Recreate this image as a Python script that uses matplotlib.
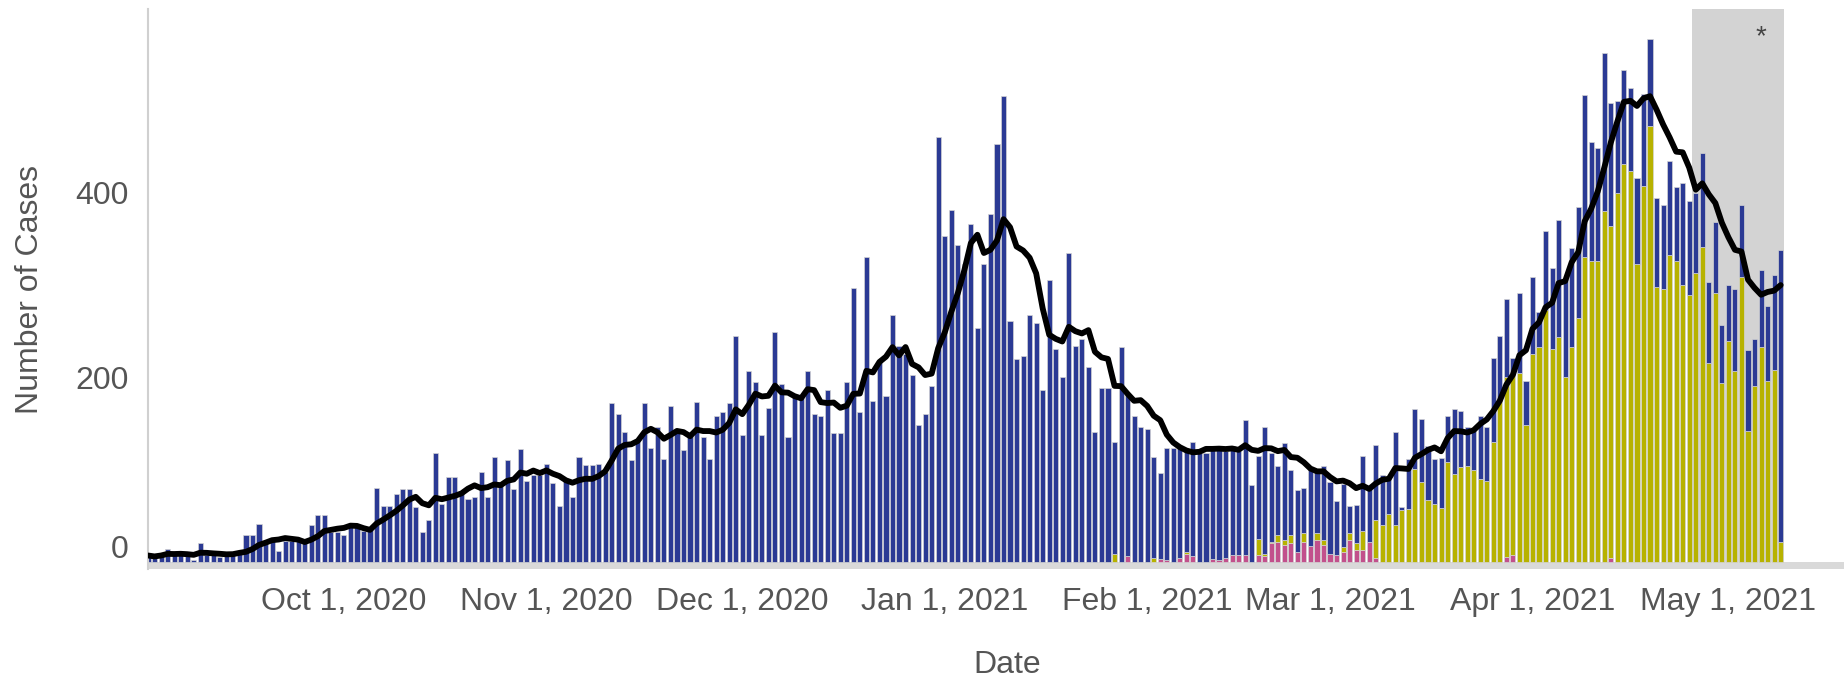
import matplotlib
matplotlib.use("Agg")
import matplotlib.pyplot as plt
from matplotlib.transforms import ScaledTranslation, blended_transform_factory
import numpy as np
import pandas as pd

# Daily case counts from 2020-09-01 to 2021-05-09 (one value per day).
START_DATE = "2020-09-01"

total_cases = [
    7, 5, 9, 14, 8, 10, 6, 2, 21, 8,
    10, 5, 6, 7, 12, 29, 29, 41, 22, 25,
    12, 23, 23, 23, 23, 40, 51, 51, 32, 32,
    29, 40, 38, 34, 38, 80, 61, 61, 74, 79,
    79, 59, 32, 45, 118, 63, 92, 92, 77, 68,
    70, 97, 70, 113, 86, 110, 79, 122, 88, 94,
    94, 106, 85, 61, 90, 70, 113, 105, 105, 106,
    97, 172, 160, 141, 110, 130, 172, 123, 146, 111,
    169, 141, 121, 141, 173, 135, 111, 158, 162, 172,
    244, 137, 206, 195, 137, 167, 249, 193, 135, 179,
    179, 206, 160, 158, 186, 139, 139, 195, 296, 162,
    330, 174, 218, 179, 267, 234, 225, 202, 148, 160,
    190, 460, 352, 381, 343, 322, 366, 253, 322, 376,
    452, 504, 261, 220, 223, 267, 258, 186, 305, 230,
    200, 334, 234, 241, 211, 141, 188, 188, 130, 232,
    183, 158, 146, 144, 114, 96, 123, 123, 123, 121,
    130, 118, 118, 123, 125, 120, 125, 120, 153, 83,
    115, 146, 118, 104, 129, 99, 78, 80, 99, 97,
    104, 86, 66, 84, 60, 62, 115, 80, 127, 94,
    92, 141, 59, 111, 165, 155, 125, 111, 112, 158,
    165, 163, 146, 143, 158, 146, 221, 244, 284, 221,
    291, 196, 308, 270, 358, 318, 370, 306, 339, 384,
    505, 454, 448, 550, 496, 498, 532, 513, 415, 506,
    566, 394, 386, 434, 405, 410, 390, 399, 442, 303,
    368, 256, 300, 295, 386, 229, 241, 316, 277, 310,
    337,
]

# Variant counts (olive and pink segments); none before 2021-01-27.
b117_cases = [0] * 148 + [
    9, 0, 0, 0, 0, 0, 4, 0, 0, 0,
    0, 2, 0, 0, 0, 0, 0, 0, 0, 0,
    0, 0, 17, 3, 2, 7, 6, 9, 0, 9,
    0, 7, 6, 0, 0, 5, 7, 7, 20, 0,
    41, 40, 52, 40, 56, 57, 101, 86, 67, 63,
    58, 108, 95, 103, 104, 100, 90, 88, 130, 175,
    195, 196, 204, 148, 225, 233, 272, 230, 243, 200,
    233, 264, 330, 326, 326, 380, 359, 399, 430, 423,
    322, 407, 471, 297, 295, 332, 326, 299, 289, 312,
    341, 215, 291, 194, 239, 207, 308, 142, 190, 233,
    196, 208, 22,
]

b1429_cases = [0] * 148 + [
    0, 0, 6, 0, 0, 0, 0, 3, 2, 0,
    4, 9, 6, 0, 0, 3, 2, 4, 8, 8,
    8, 0, 8, 6, 20, 22, 18, 20, 11, 22,
    17, 24, 18, 9, 8, 11, 24, 13, 13, 22,
    4, 0, 0, 0, 0, 0, 0, 0, 0, 0,
    0, 0, 0, 0, 0, 0, 0, 0, 0, 0,
    5, 8, 0, 0, 0, 0, 0, 0, 0, 0,
    0, 0, 0, 0, 0, 0, 4, 0, 0, 0,
    0, 0, 0, 0, 0, 0, 0, 0, 0, 0,
    0, 0, 0, 0, 0, 0, 0, 0, 0, 0,
    0, 0, 0,
]

tick_dates = ["2020-10-01", "2020-11-01", "2020-12-01", "2021-01-01",
              "2021-02-01", "2021-03-01", "2021-04-01", "2021-05-01"]
tick_labels = ["Oct 1, 2020", "Nov 1, 2020", "Dec 1, 2020", "Jan 1, 2021",
               "Feb 1, 2021", "Mar 1, 2021", "Apr 1, 2021", "May 1, 2021"]
y_ticks = [0, 200, 400]

# Incomplete-data window (shaded).
SHADE_START, SHADE_END = "2021-04-26", "2021-05-09"

BLUE = "#2b3a94"
OLIVE = "#b7b200"
PINK = "#c2508c"
EDGE = "#d4d4d4"
TEXT = "#555555"


def main():
    plt.rcParams["font.family"] = ["Liberation Sans", "DejaVu Sans"]

    dates = pd.date_range(START_DATE, periods=len(total_cases), freq="D")
    total = np.array(total_cases, dtype=float)
    var_a = np.array(b117_cases, dtype=float)
    var_b = np.array(b1429_cases, dtype=float)
    other = total - var_a - var_b
    avg7 = pd.Series(total).rolling(7, min_periods=1).mean().to_numpy()

    fig = plt.figure(figsize=(18.44, 6.8), dpi=100)
    ax = fig.add_axes([148 / 1844, 1 - 569 / 680, 1696 / 1844, 560 / 680])

    ymin, ymax = -7.6, 598
    one_day = pd.Timedelta(days=1)

    ax.axvspan(pd.Timestamp(SHADE_START) - 0.5 * one_day,
               pd.Timestamp(SHADE_END) + 0.5 * one_day,
               color="#d3d3d3", lw=0, zorder=0)
    ax.axhspan(ymin, 0, color="#d9d9d9", lw=0, zorder=1)

    width = 0.78
    bottom = np.zeros_like(total)
    for values, color in ((var_b, PINK), (var_a, OLIVE), (other, BLUE)):
        m = values > 0
        ax.bar(dates[m], values[m], width=width, bottom=bottom[m], color=color,
               edgecolor=EDGE, linewidth=0.5, zorder=2)
        bottom = bottom + values

    ax.plot(dates, avg7, color="black", lw=4.2, solid_joinstyle="round",
            solid_capstyle="round", zorder=5)

    trans = blended_transform_factory(ax.transData, ax.transAxes)
    ax.text(pd.Timestamp("2021-05-06"), 0.95, "*", transform=trans,
            ha="center", va="center", fontsize=20, color="#444444")

    ax.set_xlim(dates[0], dates[0] + 259.7 * one_day)
    ax.set_ylim(ymin, ymax)

    ax.set_xticks(pd.to_datetime(tick_dates))
    ax.set_xticklabels(tick_labels)
    ax.set_yticks(y_ticks)
    ax.set_yticklabels([str(v) for v in y_ticks])
    ax.tick_params(axis="both", length=0, labelsize=23, labelcolor=TEXT)
    ax.tick_params(axis="x", pad=13)
    ax.tick_params(axis="y", pad=14)

    # the zero label sits a little above its gridline
    zero_label = ax.get_yticklabels()[0]
    zero_label.set_transform(zero_label.get_transform()
                             + ScaledTranslation(0, 15 / 100, fig.dpi_scale_trans))

    for side in ("top", "right", "bottom"):
        ax.spines[side].set_visible(False)
    ax.spines["left"].set_color("#d0d0d0")
    ax.spines["left"].set_linewidth(1.5)

    ax.set_ylabel("Number of Cases", fontsize=23, color=TEXT)
    ax.yaxis.label.set_va("center")
    ax.yaxis.set_label_coords((30 - 148) / 1696, 0.5)
    ax.set_xlabel("Date", fontsize=23, color=TEXT)
    ax.xaxis.label.set_va("center")
    ax.xaxis.set_label_coords((1007 - 148) / 1696, -(665 - 569) / 560)

    fig.savefig("out.png", dpi=100)


if __name__ == "__main__":
    main()
